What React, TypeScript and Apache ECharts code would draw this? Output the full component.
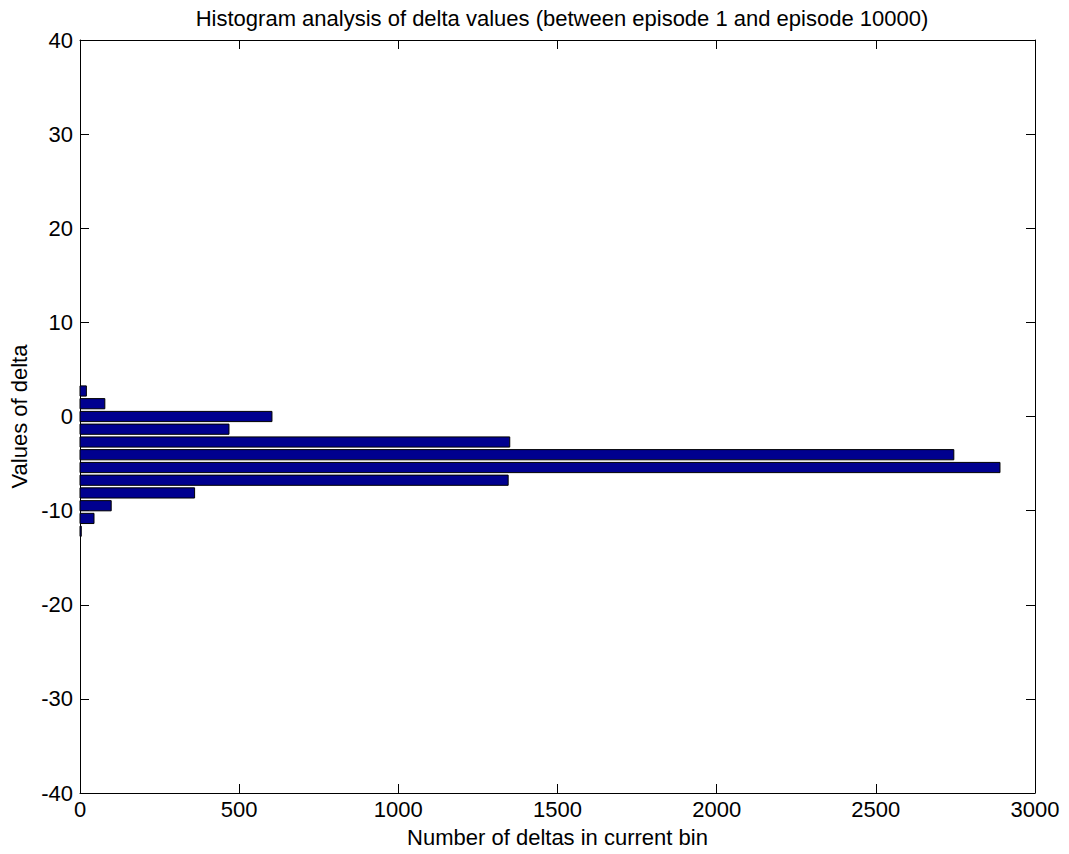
import React, { useEffect, useRef } from "react";
import * as echarts from "echarts";

const TITLE = "Histogram analysis of delta values (between episode 1 and episode 10000)";
const X_NAME = "Number of deltas in current bin";
const Y_NAME = "Values of delta";

// histogram bins (delta value at bin centre) and counts
const binCenters = [2.71, 1.36, 0.0, -1.35, -2.71, -4.06, -5.42, -6.77, -8.12, -9.48, -10.83, -12.19];
const counts = [20, 78, 603, 468, 1350, 2745, 2890, 1345, 360, 98, 44, 4];
const binWidth = 1.354;

const xTicks = { min: 0, max: 3000, interval: 500 };
const yTicks = { min: -40, max: 40, interval: 10 };

const FONT = "Liberation Sans, Arial, sans-serif";

export default function App() {
  const ref = useRef<HTMLDivElement>(null);
  useEffect(() => {
    if (!ref.current) return;
    const chart = echarts.init(ref.current, null, { renderer: "svg" });
    const data = binCenters.map((c, i) => [counts[i], c]);
    const axisCommon = {
      axisLine: { show: true, onZero: false, lineStyle: { color: "#000", width: 1 } },
      axisTick: { show: true, inside: true, length: 9, lineStyle: { color: "#000" } },
      splitLine: { show: false },
    };
    const labelStyle = { color: "#000", fontSize: 22, fontFamily: FONT };
    const fmt = (v: number) => String(v);
    chart.setOption({
      animation: false,
      backgroundColor: "#fff",
      title: {
        text: TITLE,
        left: 557,
        textAlign: "center",
        top: 2,
        textStyle: { color: "#000", fontSize: 22, fontWeight: "normal", fontFamily: FONT },
      },
      grid: { left: 80, top: 40, right: 34, bottom: 61, containLabel: false },
      xAxis: [
        {
          type: "value",
          position: "bottom",
          ...xTicks,
          ...axisCommon,
          axisLabel: { ...labelStyle, margin: 5, formatter: fmt },
          name: X_NAME,
          nameLocation: "middle",
          nameGap: 33,
          nameTextStyle: labelStyle,
        },
        {
          type: "value",
          position: "top",
          ...xTicks,
          ...axisCommon,
          axisLabel: { show: false },
        },
      ],
      yAxis: [
        {
          type: "value",
          position: "left",
          ...yTicks,
          ...axisCommon,
          axisLabel: { ...labelStyle, margin: 7, formatter: fmt },
          name: Y_NAME,
          nameLocation: "middle",
          nameGap: 48,
          nameRotate: 90,
          nameTextStyle: labelStyle,
        },
        {
          type: "value",
          position: "right",
          ...yTicks,
          ...axisCommon,
          axisLabel: { show: false },
        },
      ],
      series: [
        {
          type: "custom",
          xAxisIndex: 0,
          yAxisIndex: 0,
          data,
          encode: { x: 0, y: 1 },
          renderItem: (params: any, api: any) => {
            const v = api.value(0);
            const c = api.value(1);
            const start = api.coord([0, c]);
            const end = api.coord([v, c]);
            const h = Math.abs(api.size([0, binWidth * 0.8])[1]);
            return {
              type: "rect",
              shape: { x: start[0], y: start[1] - h / 2, width: end[0] - start[0], height: h },
              style: { fill: "#00008f", stroke: "#000", lineWidth: 1 },
            };
          },
        },
      ],
    });
    return () => chart.dispose();
  }, []);
  return (
    <div
      ref={ref}
      style={{ position: "fixed", left: 0, top: 0, width: 1069, height: 854, background: "#fff" }}
    />
  );
}
